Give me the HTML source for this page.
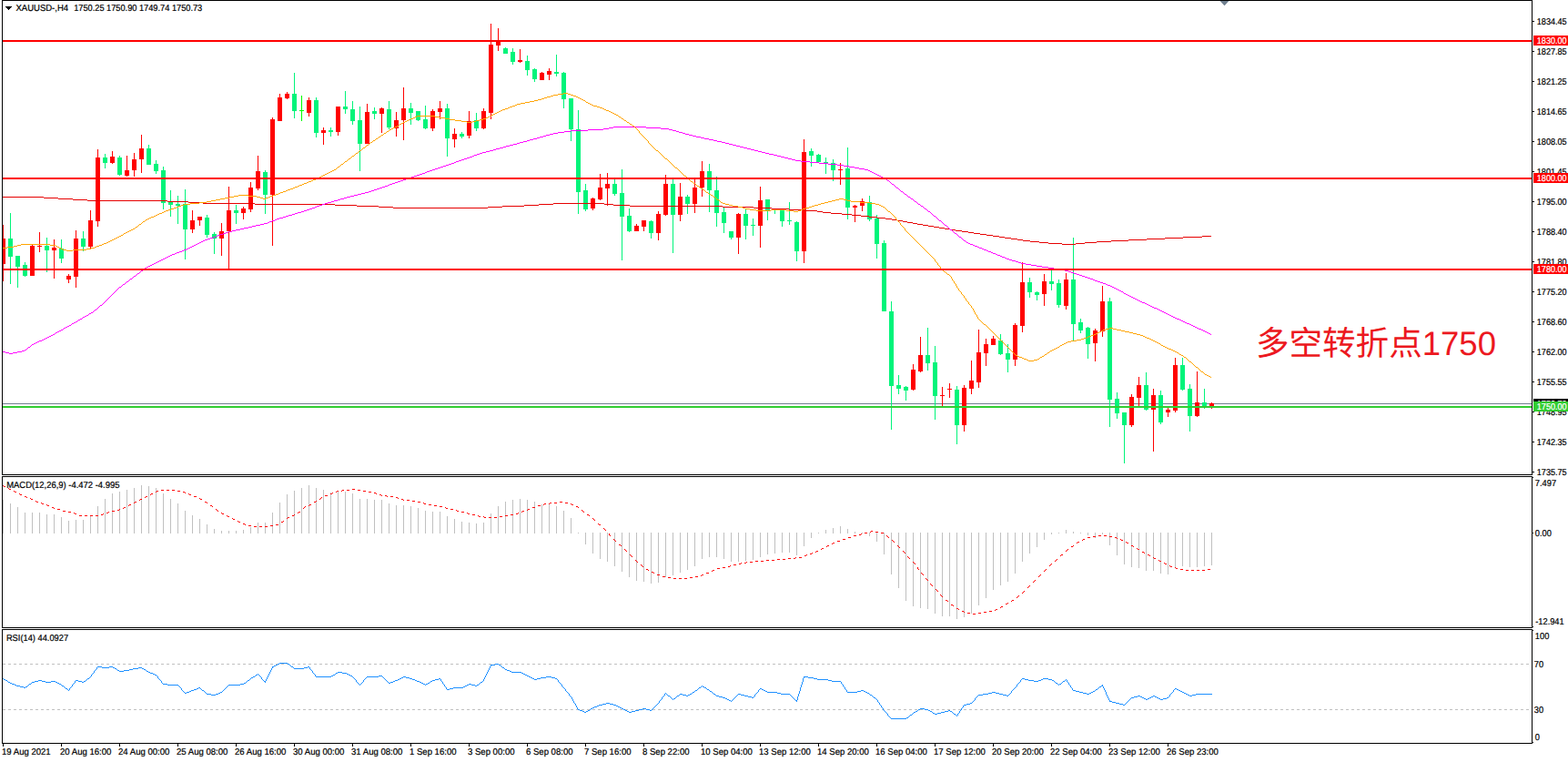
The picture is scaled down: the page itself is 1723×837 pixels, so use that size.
<!DOCTYPE html><html><head><meta charset="utf-8"><title>XAUUSD H4</title><style>
html,body{margin:0;padding:0;background:#fff;width:1723px;height:837px;overflow:hidden}
svg{display:block;position:absolute;left:0;top:0}
text{font-family:"Liberation Sans",sans-serif;font-size:10px;fill:#000;stroke:#000;stroke-width:.22px;text-rendering:geometricPrecision}
.c{shape-rendering:crispEdges}
</style></head><body>
<svg width="1723" height="837" viewBox="0 0 1723 837">
<rect width="1723" height="837" fill="#fff"/>
<g class="c">
<rect x="3" y="443" width="1680" height="1" fill="#708090"/>
<rect x="3" y="247" width="1" height="62" fill="#ff0000"/>
<rect x="3" y="262" width="3" height="28" fill="#ff0000"/>
<rect x="11" y="234" width="1" height="78" fill="#00f47a"/>
<rect x="9" y="262" width="5" height="20" fill="#00f47a"/>
<rect x="19" y="281" width="1" height="35" fill="#00f47a"/>
<rect x="17" y="281" width="5" height="12" fill="#00f47a"/>
<rect x="27" y="288" width="1" height="16" fill="#00f47a"/>
<rect x="25" y="291" width="5" height="12" fill="#00f47a"/>
<rect x="35" y="269" width="1" height="34" fill="#ff0000"/>
<rect x="33" y="270" width="5" height="33" fill="#ff0000"/>
<rect x="43" y="255" width="1" height="22" fill="#ff0000"/>
<rect x="41" y="270" width="5" height="1" fill="#ff0000"/>
<rect x="51" y="261" width="1" height="38" fill="#00f47a"/>
<rect x="49" y="270" width="5" height="5" fill="#00f47a"/>
<rect x="59" y="263" width="1" height="43" fill="#ff0000"/>
<rect x="57" y="272" width="5" height="3" fill="#ff0000"/>
<rect x="67" y="263" width="1" height="26" fill="#00f47a"/>
<rect x="65" y="273" width="5" height="11" fill="#00f47a"/>
<rect x="75" y="301" width="1" height="10" fill="#ff0000"/>
<rect x="73" y="303" width="5" height="4" fill="#ff0000"/>
<rect x="83" y="253" width="1" height="63" fill="#ff0000"/>
<rect x="81" y="262" width="5" height="42" fill="#ff0000"/>
<rect x="91" y="254" width="1" height="22" fill="#00f47a"/>
<rect x="89" y="262" width="5" height="9" fill="#00f47a"/>
<rect x="99" y="231" width="1" height="42" fill="#ff0000"/>
<rect x="97" y="242" width="5" height="29" fill="#ff0000"/>
<rect x="107" y="164" width="1" height="85" fill="#ff0000"/>
<rect x="105" y="173" width="5" height="70" fill="#ff0000"/>
<rect x="115" y="169" width="1" height="16" fill="#00f47a"/>
<rect x="113" y="173" width="5" height="6" fill="#00f47a"/>
<rect x="123" y="166" width="1" height="14" fill="#ff0000"/>
<rect x="121" y="172" width="5" height="7" fill="#ff0000"/>
<rect x="131" y="171" width="1" height="22" fill="#00f47a"/>
<rect x="129" y="173" width="5" height="19" fill="#00f47a"/>
<rect x="139" y="171" width="1" height="23" fill="#ff0000"/>
<rect x="137" y="187" width="5" height="6" fill="#ff0000"/>
<rect x="147" y="168" width="1" height="26" fill="#ff0000"/>
<rect x="145" y="175" width="5" height="12" fill="#ff0000"/>
<rect x="155" y="148" width="1" height="42" fill="#ff0000"/>
<rect x="153" y="163" width="5" height="12" fill="#ff0000"/>
<rect x="163" y="159" width="1" height="22" fill="#00f47a"/>
<rect x="161" y="163" width="5" height="18" fill="#00f47a"/>
<rect x="171" y="176" width="1" height="15" fill="#00f47a"/>
<rect x="169" y="180" width="5" height="8" fill="#00f47a"/>
<rect x="179" y="183" width="1" height="47" fill="#00f47a"/>
<rect x="177" y="187" width="5" height="36" fill="#00f47a"/>
<rect x="187" y="209" width="1" height="29" fill="#00f47a"/>
<rect x="185" y="222" width="5" height="3" fill="#00f47a"/>
<rect x="195" y="215" width="1" height="31" fill="#00f47a"/>
<rect x="193" y="224" width="5" height="2" fill="#00f47a"/>
<rect x="203" y="208" width="1" height="77" fill="#00f47a"/>
<rect x="201" y="224" width="5" height="28" fill="#00f47a"/>
<rect x="211" y="231" width="1" height="25" fill="#ff0000"/>
<rect x="209" y="242" width="5" height="10" fill="#ff0000"/>
<rect x="219" y="238" width="1" height="10" fill="#ff0000"/>
<rect x="217" y="238" width="5" height="4" fill="#ff0000"/>
<rect x="227" y="236" width="1" height="25" fill="#00f47a"/>
<rect x="225" y="239" width="5" height="19" fill="#00f47a"/>
<rect x="235" y="255" width="1" height="24" fill="#00f47a"/>
<rect x="233" y="257" width="5" height="5" fill="#00f47a"/>
<rect x="243" y="245" width="1" height="36" fill="#ff0000"/>
<rect x="241" y="254" width="5" height="8" fill="#ff0000"/>
<rect x="251" y="205" width="1" height="90" fill="#ff0000"/>
<rect x="249" y="231" width="5" height="23" fill="#ff0000"/>
<rect x="259" y="225" width="1" height="21" fill="#00f47a"/>
<rect x="257" y="231" width="5" height="3" fill="#00f47a"/>
<rect x="267" y="227" width="1" height="14" fill="#ff0000"/>
<rect x="265" y="229" width="5" height="5" fill="#ff0000"/>
<rect x="275" y="200" width="1" height="33" fill="#ff0000"/>
<rect x="273" y="206" width="5" height="24" fill="#ff0000"/>
<rect x="283" y="171" width="1" height="38" fill="#ff0000"/>
<rect x="281" y="188" width="5" height="19" fill="#ff0000"/>
<rect x="291" y="187" width="1" height="48" fill="#00f47a"/>
<rect x="289" y="189" width="5" height="25" fill="#00f47a"/>
<rect x="299" y="129" width="1" height="141" fill="#ff0000"/>
<rect x="297" y="131" width="5" height="83" fill="#ff0000"/>
<rect x="307" y="103" width="1" height="30" fill="#ff0000"/>
<rect x="305" y="107" width="5" height="26" fill="#ff0000"/>
<rect x="315" y="101" width="1" height="8" fill="#ff0000"/>
<rect x="313" y="103" width="5" height="5" fill="#ff0000"/>
<rect x="323" y="80" width="1" height="50" fill="#00f47a"/>
<rect x="321" y="103" width="5" height="19" fill="#00f47a"/>
<rect x="331" y="105" width="1" height="28" fill="#00ff00"/>
<rect x="329" y="121" width="5" height="1" fill="#00ff00"/>
<rect x="339" y="107" width="1" height="21" fill="#ff0000"/>
<rect x="337" y="110" width="5" height="14" fill="#ff0000"/>
<rect x="347" y="107" width="1" height="44" fill="#00f47a"/>
<rect x="345" y="110" width="5" height="36" fill="#00f47a"/>
<rect x="355" y="140" width="1" height="19" fill="#ff0000"/>
<rect x="353" y="143" width="5" height="3" fill="#ff0000"/>
<rect x="363" y="140" width="1" height="10" fill="#00f47a"/>
<rect x="361" y="143" width="5" height="2" fill="#00f47a"/>
<rect x="371" y="117" width="1" height="32" fill="#ff0000"/>
<rect x="369" y="117" width="5" height="28" fill="#ff0000"/>
<rect x="379" y="100" width="1" height="25" fill="#00f47a"/>
<rect x="377" y="117" width="5" height="3" fill="#00f47a"/>
<rect x="387" y="111" width="1" height="26" fill="#00f47a"/>
<rect x="385" y="120" width="5" height="13" fill="#00f47a"/>
<rect x="395" y="117" width="1" height="71" fill="#00f47a"/>
<rect x="393" y="132" width="5" height="26" fill="#00f47a"/>
<rect x="403" y="114" width="1" height="44" fill="#ff0000"/>
<rect x="401" y="123" width="5" height="35" fill="#ff0000"/>
<rect x="411" y="118" width="1" height="13" fill="#00f47a"/>
<rect x="409" y="122" width="5" height="3" fill="#00f47a"/>
<rect x="419" y="118" width="1" height="28" fill="#ff0000"/>
<rect x="417" y="119" width="5" height="6" fill="#ff0000"/>
<rect x="427" y="111" width="1" height="31" fill="#00f47a"/>
<rect x="425" y="120" width="5" height="20" fill="#00f47a"/>
<rect x="435" y="123" width="1" height="27" fill="#ff0000"/>
<rect x="433" y="132" width="5" height="9" fill="#ff0000"/>
<rect x="443" y="96" width="1" height="58" fill="#ff0000"/>
<rect x="441" y="119" width="5" height="13" fill="#ff0000"/>
<rect x="451" y="113" width="1" height="24" fill="#00f47a"/>
<rect x="449" y="119" width="5" height="5" fill="#00f47a"/>
<rect x="459" y="122" width="1" height="11" fill="#00f47a"/>
<rect x="457" y="122" width="5" height="10" fill="#00f47a"/>
<rect x="467" y="116" width="1" height="26" fill="#00f47a"/>
<rect x="465" y="131" width="5" height="10" fill="#00f47a"/>
<rect x="475" y="120" width="1" height="24" fill="#ff0000"/>
<rect x="473" y="122" width="5" height="19" fill="#ff0000"/>
<rect x="483" y="111" width="1" height="20" fill="#ff0000"/>
<rect x="481" y="119" width="5" height="4" fill="#ff0000"/>
<rect x="491" y="114" width="1" height="58" fill="#00f47a"/>
<rect x="489" y="119" width="5" height="33" fill="#00f47a"/>
<rect x="499" y="141" width="1" height="21" fill="#ff0000"/>
<rect x="497" y="147" width="5" height="6" fill="#ff0000"/>
<rect x="507" y="145" width="1" height="7" fill="#00f47a"/>
<rect x="505" y="147" width="5" height="3" fill="#00f47a"/>
<rect x="515" y="122" width="1" height="30" fill="#ff0000"/>
<rect x="513" y="133" width="5" height="16" fill="#ff0000"/>
<rect x="523" y="124" width="1" height="20" fill="#00f47a"/>
<rect x="521" y="132" width="5" height="9" fill="#00f47a"/>
<rect x="531" y="119" width="1" height="23" fill="#ff0000"/>
<rect x="529" y="122" width="5" height="19" fill="#ff0000"/>
<rect x="539" y="26" width="1" height="105" fill="#ff0000"/>
<rect x="537" y="49" width="5" height="75" fill="#ff0000"/>
<rect x="547" y="31" width="1" height="25" fill="#ff0000"/>
<rect x="545" y="44" width="5" height="6" fill="#ff0000"/>
<rect x="555" y="52" width="1" height="7" fill="#00f47a"/>
<rect x="553" y="53" width="5" height="6" fill="#00f47a"/>
<rect x="563" y="53" width="1" height="18" fill="#00f47a"/>
<rect x="561" y="57" width="5" height="11" fill="#00f47a"/>
<rect x="571" y="54" width="1" height="15" fill="#ff0000"/>
<rect x="569" y="66" width="5" height="2" fill="#ff0000"/>
<rect x="579" y="61" width="1" height="22" fill="#00f47a"/>
<rect x="577" y="67" width="5" height="10" fill="#00f47a"/>
<rect x="587" y="75" width="1" height="15" fill="#00f47a"/>
<rect x="585" y="76" width="5" height="11" fill="#00f47a"/>
<rect x="595" y="79" width="1" height="9" fill="#ff0000"/>
<rect x="593" y="80" width="5" height="8" fill="#ff0000"/>
<rect x="603" y="75" width="1" height="13" fill="#ff0000"/>
<rect x="601" y="78" width="5" height="4" fill="#ff0000"/>
<rect x="611" y="60" width="1" height="24" fill="#00f47a"/>
<rect x="609" y="79" width="5" height="2" fill="#00f47a"/>
<rect x="619" y="79" width="1" height="40" fill="#00f47a"/>
<rect x="617" y="80" width="5" height="29" fill="#00f47a"/>
<rect x="627" y="108" width="1" height="47" fill="#00f47a"/>
<rect x="625" y="108" width="5" height="34" fill="#00f47a"/>
<rect x="635" y="121" width="1" height="114" fill="#00f47a"/>
<rect x="633" y="142" width="5" height="69" fill="#00f47a"/>
<rect x="643" y="202" width="1" height="30" fill="#00f47a"/>
<rect x="641" y="209" width="5" height="21" fill="#00f47a"/>
<rect x="651" y="217" width="1" height="14" fill="#ff0000"/>
<rect x="649" y="218" width="5" height="11" fill="#ff0000"/>
<rect x="659" y="191" width="1" height="29" fill="#ff0000"/>
<rect x="657" y="206" width="5" height="13" fill="#ff0000"/>
<rect x="667" y="190" width="1" height="36" fill="#ff0000"/>
<rect x="665" y="202" width="5" height="5" fill="#ff0000"/>
<rect x="675" y="197" width="1" height="18" fill="#00f47a"/>
<rect x="673" y="202" width="5" height="11" fill="#00f47a"/>
<rect x="683" y="186" width="1" height="100" fill="#00f47a"/>
<rect x="681" y="212" width="5" height="26" fill="#00f47a"/>
<rect x="691" y="229" width="1" height="26" fill="#00f47a"/>
<rect x="689" y="237" width="5" height="17" fill="#00f47a"/>
<rect x="699" y="246" width="1" height="8" fill="#ff0000"/>
<rect x="697" y="248" width="5" height="6" fill="#ff0000"/>
<rect x="707" y="242" width="1" height="12" fill="#ff0000"/>
<rect x="705" y="242" width="5" height="7" fill="#ff0000"/>
<rect x="715" y="242" width="1" height="20" fill="#00f47a"/>
<rect x="713" y="243" width="5" height="13" fill="#00f47a"/>
<rect x="723" y="232" width="1" height="32" fill="#ff0000"/>
<rect x="721" y="235" width="5" height="21" fill="#ff0000"/>
<rect x="731" y="192" width="1" height="45" fill="#ff0000"/>
<rect x="729" y="202" width="5" height="34" fill="#ff0000"/>
<rect x="739" y="197" width="1" height="81" fill="#00f47a"/>
<rect x="737" y="202" width="5" height="34" fill="#00f47a"/>
<rect x="747" y="201" width="1" height="42" fill="#ff0000"/>
<rect x="745" y="216" width="5" height="20" fill="#ff0000"/>
<rect x="755" y="214" width="1" height="21" fill="#00f47a"/>
<rect x="753" y="216" width="5" height="8" fill="#00f47a"/>
<rect x="763" y="197" width="1" height="37" fill="#ff0000"/>
<rect x="761" y="206" width="5" height="18" fill="#ff0000"/>
<rect x="771" y="177" width="1" height="39" fill="#ff0000"/>
<rect x="769" y="188" width="5" height="18" fill="#ff0000"/>
<rect x="779" y="180" width="1" height="53" fill="#00f47a"/>
<rect x="777" y="188" width="5" height="21" fill="#00f47a"/>
<rect x="787" y="194" width="1" height="55" fill="#00f47a"/>
<rect x="785" y="209" width="5" height="25" fill="#00f47a"/>
<rect x="795" y="228" width="1" height="28" fill="#00f47a"/>
<rect x="793" y="233" width="5" height="12" fill="#00f47a"/>
<rect x="803" y="254" width="1" height="9" fill="#00f47a"/>
<rect x="801" y="254" width="5" height="7" fill="#00f47a"/>
<rect x="811" y="234" width="1" height="45" fill="#ff0000"/>
<rect x="809" y="235" width="5" height="26" fill="#ff0000"/>
<rect x="819" y="229" width="1" height="34" fill="#00f47a"/>
<rect x="817" y="235" width="5" height="13" fill="#00f47a"/>
<rect x="827" y="240" width="1" height="19" fill="#00f47a"/>
<rect x="825" y="247" width="5" height="1" fill="#00f47a"/>
<rect x="835" y="205" width="1" height="67" fill="#ff0000"/>
<rect x="833" y="220" width="5" height="28" fill="#ff0000"/>
<rect x="843" y="219" width="1" height="23" fill="#00f47a"/>
<rect x="841" y="219" width="5" height="12" fill="#00f47a"/>
<rect x="851" y="229" width="1" height="6" fill="#00f47a"/>
<rect x="849" y="230" width="5" height="1" fill="#00f47a"/>
<rect x="859" y="230" width="1" height="19" fill="#00f47a"/>
<rect x="857" y="231" width="5" height="12" fill="#00f47a"/>
<rect x="867" y="222" width="1" height="25" fill="#00f47a"/>
<rect x="865" y="242" width="5" height="1" fill="#00f47a"/>
<rect x="875" y="243" width="1" height="44" fill="#00f47a"/>
<rect x="873" y="244" width="5" height="32" fill="#00f47a"/>
<rect x="883" y="153" width="1" height="136" fill="#ff0000"/>
<rect x="881" y="167" width="5" height="109" fill="#ff0000"/>
<rect x="891" y="163" width="1" height="20" fill="#00f47a"/>
<rect x="889" y="166" width="5" height="5" fill="#00f47a"/>
<rect x="899" y="169" width="1" height="9" fill="#00f47a"/>
<rect x="897" y="170" width="5" height="8" fill="#00f47a"/>
<rect x="907" y="173" width="1" height="18" fill="#00f47a"/>
<rect x="905" y="178" width="5" height="1" fill="#00f47a"/>
<rect x="915" y="175" width="1" height="24" fill="#00f47a"/>
<rect x="913" y="179" width="5" height="8" fill="#00f47a"/>
<rect x="923" y="179" width="1" height="24" fill="#ff0000"/>
<rect x="921" y="186" width="5" height="1" fill="#ff0000"/>
<rect x="931" y="162" width="1" height="79" fill="#00f47a"/>
<rect x="929" y="185" width="5" height="43" fill="#00f47a"/>
<rect x="939" y="225" width="1" height="19" fill="#ff0000"/>
<rect x="937" y="226" width="5" height="2" fill="#ff0000"/>
<rect x="947" y="218" width="1" height="14" fill="#ff0000"/>
<rect x="945" y="221" width="5" height="5" fill="#ff0000"/>
<rect x="955" y="215" width="1" height="28" fill="#00f47a"/>
<rect x="953" y="222" width="5" height="19" fill="#00f47a"/>
<rect x="963" y="236" width="1" height="48" fill="#00f47a"/>
<rect x="961" y="240" width="5" height="28" fill="#00f47a"/>
<rect x="971" y="264" width="1" height="78" fill="#00f47a"/>
<rect x="969" y="267" width="5" height="75" fill="#00f47a"/>
<rect x="979" y="331" width="1" height="141" fill="#00f47a"/>
<rect x="977" y="342" width="5" height="82" fill="#00f47a"/>
<rect x="987" y="412" width="1" height="21" fill="#00f47a"/>
<rect x="985" y="423" width="5" height="4" fill="#00f47a"/>
<rect x="995" y="424" width="1" height="16" fill="#00f47a"/>
<rect x="993" y="425" width="5" height="4" fill="#00f47a"/>
<rect x="1003" y="400" width="1" height="29" fill="#ff0000"/>
<rect x="1001" y="406" width="5" height="22" fill="#ff0000"/>
<rect x="1011" y="370" width="1" height="39" fill="#ff0000"/>
<rect x="1009" y="390" width="5" height="18" fill="#ff0000"/>
<rect x="1019" y="360" width="1" height="47" fill="#00f47a"/>
<rect x="1017" y="390" width="5" height="9" fill="#00f47a"/>
<rect x="1027" y="380" width="1" height="81" fill="#00f47a"/>
<rect x="1025" y="398" width="5" height="37" fill="#00f47a"/>
<rect x="1035" y="425" width="1" height="21" fill="#ff0000"/>
<rect x="1033" y="434" width="5" height="1" fill="#ff0000"/>
<rect x="1043" y="421" width="1" height="16" fill="#ff0000"/>
<rect x="1041" y="427" width="5" height="1" fill="#ff0000"/>
<rect x="1051" y="424" width="1" height="64" fill="#00f47a"/>
<rect x="1049" y="428" width="5" height="39" fill="#00f47a"/>
<rect x="1059" y="423" width="1" height="51" fill="#ff0000"/>
<rect x="1057" y="426" width="5" height="41" fill="#ff0000"/>
<rect x="1067" y="396" width="1" height="37" fill="#ff0000"/>
<rect x="1065" y="418" width="5" height="9" fill="#ff0000"/>
<rect x="1075" y="362" width="1" height="64" fill="#ff0000"/>
<rect x="1073" y="387" width="5" height="33" fill="#ff0000"/>
<rect x="1083" y="372" width="1" height="30" fill="#ff0000"/>
<rect x="1081" y="378" width="5" height="10" fill="#ff0000"/>
<rect x="1091" y="369" width="1" height="10" fill="#ff0000"/>
<rect x="1089" y="372" width="5" height="7" fill="#ff0000"/>
<rect x="1099" y="367" width="1" height="23" fill="#00f47a"/>
<rect x="1097" y="374" width="5" height="15" fill="#00f47a"/>
<rect x="1107" y="378" width="1" height="31" fill="#00f47a"/>
<rect x="1105" y="388" width="5" height="7" fill="#00f47a"/>
<rect x="1115" y="355" width="1" height="47" fill="#ff0000"/>
<rect x="1113" y="357" width="5" height="38" fill="#ff0000"/>
<rect x="1123" y="288" width="1" height="77" fill="#ff0000"/>
<rect x="1121" y="310" width="5" height="48" fill="#ff0000"/>
<rect x="1131" y="305" width="1" height="22" fill="#00f47a"/>
<rect x="1129" y="310" width="5" height="11" fill="#00f47a"/>
<rect x="1139" y="320" width="1" height="10" fill="#00f47a"/>
<rect x="1137" y="321" width="5" height="3" fill="#00f47a"/>
<rect x="1147" y="301" width="1" height="35" fill="#ff0000"/>
<rect x="1145" y="309" width="5" height="14" fill="#ff0000"/>
<rect x="1155" y="297" width="1" height="22" fill="#00f47a"/>
<rect x="1153" y="309" width="5" height="3" fill="#00f47a"/>
<rect x="1163" y="307" width="1" height="31" fill="#00f47a"/>
<rect x="1161" y="311" width="5" height="24" fill="#00f47a"/>
<rect x="1171" y="300" width="1" height="40" fill="#ff0000"/>
<rect x="1169" y="307" width="5" height="29" fill="#ff0000"/>
<rect x="1179" y="261" width="1" height="113" fill="#00f47a"/>
<rect x="1177" y="307" width="5" height="49" fill="#00f47a"/>
<rect x="1187" y="350" width="1" height="16" fill="#00f47a"/>
<rect x="1185" y="354" width="5" height="9" fill="#00f47a"/>
<rect x="1195" y="359" width="1" height="35" fill="#00f47a"/>
<rect x="1193" y="360" width="5" height="18" fill="#00f47a"/>
<rect x="1203" y="361" width="1" height="36" fill="#ff0000"/>
<rect x="1201" y="363" width="5" height="14" fill="#ff0000"/>
<rect x="1211" y="314" width="1" height="56" fill="#ff0000"/>
<rect x="1209" y="331" width="5" height="33" fill="#ff0000"/>
<rect x="1219" y="327" width="1" height="142" fill="#00f47a"/>
<rect x="1217" y="331" width="5" height="108" fill="#00f47a"/>
<rect x="1227" y="431" width="1" height="29" fill="#00f47a"/>
<rect x="1225" y="438" width="5" height="16" fill="#00f47a"/>
<rect x="1235" y="453" width="1" height="56" fill="#00f47a"/>
<rect x="1233" y="453" width="5" height="14" fill="#00f47a"/>
<rect x="1243" y="433" width="1" height="36" fill="#ff0000"/>
<rect x="1241" y="436" width="5" height="31" fill="#ff0000"/>
<rect x="1251" y="414" width="1" height="32" fill="#ff0000"/>
<rect x="1249" y="423" width="5" height="14" fill="#ff0000"/>
<rect x="1259" y="409" width="1" height="42" fill="#00f47a"/>
<rect x="1257" y="423" width="5" height="27" fill="#00f47a"/>
<rect x="1267" y="427" width="1" height="69" fill="#ff0000"/>
<rect x="1265" y="434" width="5" height="16" fill="#ff0000"/>
<rect x="1275" y="429" width="1" height="37" fill="#00f47a"/>
<rect x="1273" y="434" width="5" height="30" fill="#00f47a"/>
<rect x="1283" y="448" width="1" height="10" fill="#ff0000"/>
<rect x="1281" y="450" width="5" height="3" fill="#ff0000"/>
<rect x="1291" y="393" width="1" height="60" fill="#ff0000"/>
<rect x="1289" y="401" width="5" height="50" fill="#ff0000"/>
<rect x="1299" y="393" width="1" height="36" fill="#00f47a"/>
<rect x="1297" y="401" width="5" height="27" fill="#00f47a"/>
<rect x="1307" y="422" width="1" height="52" fill="#00f47a"/>
<rect x="1305" y="427" width="5" height="30" fill="#00f47a"/>
<rect x="1315" y="408" width="1" height="50" fill="#ff0000"/>
<rect x="1313" y="442" width="5" height="15" fill="#ff0000"/>
<rect x="1323" y="427" width="1" height="22" fill="#00f47a"/>
<rect x="1321" y="442" width="5" height="6" fill="#00f47a"/>
<rect x="1331" y="442" width="1" height="7" fill="#ff0000"/>
<rect x="1329" y="443" width="5" height="5" fill="#ff0000"/>
<rect x="3" y="549" width="1" height="37" fill="#c0c0c0"/>
<rect x="11" y="553" width="1" height="33" fill="#c0c0c0"/>
<rect x="19" y="557" width="1" height="29" fill="#c0c0c0"/>
<rect x="27" y="563" width="1" height="23" fill="#c0c0c0"/>
<rect x="35" y="563" width="1" height="23" fill="#c0c0c0"/>
<rect x="43" y="563" width="1" height="23" fill="#c0c0c0"/>
<rect x="51" y="565" width="1" height="21" fill="#c0c0c0"/>
<rect x="59" y="565" width="1" height="21" fill="#c0c0c0"/>
<rect x="67" y="568" width="1" height="18" fill="#c0c0c0"/>
<rect x="75" y="572" width="1" height="14" fill="#c0c0c0"/>
<rect x="83" y="571" width="1" height="15" fill="#c0c0c0"/>
<rect x="91" y="571" width="1" height="15" fill="#c0c0c0"/>
<rect x="99" y="567" width="1" height="19" fill="#c0c0c0"/>
<rect x="107" y="556" width="1" height="30" fill="#c0c0c0"/>
<rect x="115" y="548" width="1" height="38" fill="#c0c0c0"/>
<rect x="123" y="542" width="1" height="44" fill="#c0c0c0"/>
<rect x="131" y="540" width="1" height="46" fill="#c0c0c0"/>
<rect x="139" y="538" width="1" height="48" fill="#c0c0c0"/>
<rect x="147" y="536" width="1" height="50" fill="#c0c0c0"/>
<rect x="155" y="533" width="1" height="53" fill="#c0c0c0"/>
<rect x="163" y="534" width="1" height="52" fill="#c0c0c0"/>
<rect x="171" y="536" width="1" height="50" fill="#c0c0c0"/>
<rect x="179" y="542" width="1" height="44" fill="#c0c0c0"/>
<rect x="187" y="548" width="1" height="38" fill="#c0c0c0"/>
<rect x="195" y="553" width="1" height="33" fill="#c0c0c0"/>
<rect x="203" y="561" width="1" height="25" fill="#c0c0c0"/>
<rect x="211" y="566" width="1" height="20" fill="#c0c0c0"/>
<rect x="219" y="570" width="1" height="16" fill="#c0c0c0"/>
<rect x="227" y="576" width="1" height="10" fill="#c0c0c0"/>
<rect x="235" y="581" width="1" height="5" fill="#c0c0c0"/>
<rect x="243" y="583" width="1" height="3" fill="#c0c0c0"/>
<rect x="251" y="583" width="1" height="3" fill="#c0c0c0"/>
<rect x="259" y="583" width="1" height="3" fill="#c0c0c0"/>
<rect x="267" y="582" width="1" height="4" fill="#c0c0c0"/>
<rect x="275" y="579" width="1" height="7" fill="#c0c0c0"/>
<rect x="283" y="574" width="1" height="12" fill="#c0c0c0"/>
<rect x="291" y="574" width="1" height="12" fill="#c0c0c0"/>
<rect x="299" y="563" width="1" height="23" fill="#c0c0c0"/>
<rect x="307" y="552" width="1" height="34" fill="#c0c0c0"/>
<rect x="315" y="543" width="1" height="43" fill="#c0c0c0"/>
<rect x="323" y="539" width="1" height="47" fill="#c0c0c0"/>
<rect x="331" y="536" width="1" height="50" fill="#c0c0c0"/>
<rect x="339" y="533" width="1" height="53" fill="#c0c0c0"/>
<rect x="347" y="536" width="1" height="50" fill="#c0c0c0"/>
<rect x="355" y="538" width="1" height="48" fill="#c0c0c0"/>
<rect x="363" y="541" width="1" height="45" fill="#c0c0c0"/>
<rect x="371" y="539" width="1" height="47" fill="#c0c0c0"/>
<rect x="379" y="540" width="1" height="46" fill="#c0c0c0"/>
<rect x="387" y="542" width="1" height="44" fill="#c0c0c0"/>
<rect x="395" y="548" width="1" height="38" fill="#c0c0c0"/>
<rect x="403" y="548" width="1" height="38" fill="#c0c0c0"/>
<rect x="411" y="549" width="1" height="37" fill="#c0c0c0"/>
<rect x="419" y="549" width="1" height="37" fill="#c0c0c0"/>
<rect x="427" y="553" width="1" height="33" fill="#c0c0c0"/>
<rect x="435" y="555" width="1" height="31" fill="#c0c0c0"/>
<rect x="443" y="555" width="1" height="31" fill="#c0c0c0"/>
<rect x="451" y="556" width="1" height="30" fill="#c0c0c0"/>
<rect x="459" y="558" width="1" height="28" fill="#c0c0c0"/>
<rect x="467" y="561" width="1" height="25" fill="#c0c0c0"/>
<rect x="475" y="562" width="1" height="24" fill="#c0c0c0"/>
<rect x="483" y="562" width="1" height="24" fill="#c0c0c0"/>
<rect x="491" y="567" width="1" height="19" fill="#c0c0c0"/>
<rect x="499" y="570" width="1" height="16" fill="#c0c0c0"/>
<rect x="507" y="573" width="1" height="13" fill="#c0c0c0"/>
<rect x="515" y="574" width="1" height="12" fill="#c0c0c0"/>
<rect x="523" y="575" width="1" height="11" fill="#c0c0c0"/>
<rect x="531" y="574" width="1" height="12" fill="#c0c0c0"/>
<rect x="539" y="564" width="1" height="22" fill="#c0c0c0"/>
<rect x="547" y="556" width="1" height="30" fill="#c0c0c0"/>
<rect x="555" y="551" width="1" height="35" fill="#c0c0c0"/>
<rect x="563" y="549" width="1" height="37" fill="#c0c0c0"/>
<rect x="571" y="548" width="1" height="38" fill="#c0c0c0"/>
<rect x="579" y="549" width="1" height="37" fill="#c0c0c0"/>
<rect x="587" y="551" width="1" height="35" fill="#c0c0c0"/>
<rect x="595" y="554" width="1" height="32" fill="#c0c0c0"/>
<rect x="603" y="554" width="1" height="32" fill="#c0c0c0"/>
<rect x="611" y="556" width="1" height="30" fill="#c0c0c0"/>
<rect x="619" y="561" width="1" height="25" fill="#c0c0c0"/>
<rect x="627" y="569" width="1" height="17" fill="#c0c0c0"/>
<rect x="635" y="585" width="1" height="1" fill="#c0c0c0"/>
<rect x="643" y="585" width="1" height="13" fill="#c0c0c0"/>
<rect x="651" y="585" width="1" height="23" fill="#c0c0c0"/>
<rect x="659" y="585" width="1" height="29" fill="#c0c0c0"/>
<rect x="667" y="585" width="1" height="32" fill="#c0c0c0"/>
<rect x="675" y="585" width="1" height="37" fill="#c0c0c0"/>
<rect x="683" y="585" width="1" height="43" fill="#c0c0c0"/>
<rect x="691" y="585" width="1" height="49" fill="#c0c0c0"/>
<rect x="699" y="585" width="1" height="53" fill="#c0c0c0"/>
<rect x="707" y="585" width="1" height="54" fill="#c0c0c0"/>
<rect x="715" y="585" width="1" height="56" fill="#c0c0c0"/>
<rect x="723" y="585" width="1" height="55" fill="#c0c0c0"/>
<rect x="731" y="585" width="1" height="49" fill="#c0c0c0"/>
<rect x="739" y="585" width="1" height="47" fill="#c0c0c0"/>
<rect x="747" y="585" width="1" height="44" fill="#c0c0c0"/>
<rect x="755" y="585" width="1" height="41" fill="#c0c0c0"/>
<rect x="763" y="585" width="1" height="37" fill="#c0c0c0"/>
<rect x="771" y="585" width="1" height="29" fill="#c0c0c0"/>
<rect x="779" y="585" width="1" height="27" fill="#c0c0c0"/>
<rect x="787" y="585" width="1" height="27" fill="#c0c0c0"/>
<rect x="795" y="585" width="1" height="29" fill="#c0c0c0"/>
<rect x="803" y="585" width="1" height="32" fill="#c0c0c0"/>
<rect x="811" y="585" width="1" height="32" fill="#c0c0c0"/>
<rect x="819" y="585" width="1" height="31" fill="#c0c0c0"/>
<rect x="827" y="585" width="1" height="30" fill="#c0c0c0"/>
<rect x="835" y="585" width="1" height="27" fill="#c0c0c0"/>
<rect x="843" y="585" width="1" height="24" fill="#c0c0c0"/>
<rect x="851" y="585" width="1" height="23" fill="#c0c0c0"/>
<rect x="859" y="585" width="1" height="22" fill="#c0c0c0"/>
<rect x="867" y="585" width="1" height="22" fill="#c0c0c0"/>
<rect x="875" y="585" width="1" height="25" fill="#c0c0c0"/>
<rect x="883" y="585" width="1" height="15" fill="#c0c0c0"/>
<rect x="891" y="585" width="1" height="6" fill="#c0c0c0"/>
<rect x="899" y="585" width="1" height="1" fill="#c0c0c0"/>
<rect x="907" y="582" width="1" height="4" fill="#c0c0c0"/>
<rect x="915" y="580" width="1" height="6" fill="#c0c0c0"/>
<rect x="923" y="578" width="1" height="8" fill="#c0c0c0"/>
<rect x="931" y="581" width="1" height="5" fill="#c0c0c0"/>
<rect x="939" y="584" width="1" height="2" fill="#c0c0c0"/>
<rect x="947" y="585" width="1" height="1" fill="#c0c0c0"/>
<rect x="955" y="585" width="1" height="4" fill="#c0c0c0"/>
<rect x="963" y="585" width="1" height="10" fill="#c0c0c0"/>
<rect x="971" y="585" width="1" height="24" fill="#c0c0c0"/>
<rect x="979" y="585" width="1" height="46" fill="#c0c0c0"/>
<rect x="987" y="585" width="1" height="61" fill="#c0c0c0"/>
<rect x="995" y="585" width="1" height="75" fill="#c0c0c0"/>
<rect x="1003" y="585" width="1" height="81" fill="#c0c0c0"/>
<rect x="1011" y="585" width="1" height="83" fill="#c0c0c0"/>
<rect x="1019" y="585" width="1" height="84" fill="#c0c0c0"/>
<rect x="1027" y="585" width="1" height="89" fill="#c0c0c0"/>
<rect x="1035" y="585" width="1" height="92" fill="#c0c0c0"/>
<rect x="1043" y="585" width="1" height="92" fill="#c0c0c0"/>
<rect x="1051" y="585" width="1" height="95" fill="#c0c0c0"/>
<rect x="1059" y="585" width="1" height="93" fill="#c0c0c0"/>
<rect x="1067" y="585" width="1" height="89" fill="#c0c0c0"/>
<rect x="1075" y="585" width="1" height="80" fill="#c0c0c0"/>
<rect x="1083" y="585" width="1" height="72" fill="#c0c0c0"/>
<rect x="1091" y="585" width="1" height="63" fill="#c0c0c0"/>
<rect x="1099" y="585" width="1" height="58" fill="#c0c0c0"/>
<rect x="1107" y="585" width="1" height="54" fill="#c0c0c0"/>
<rect x="1115" y="585" width="1" height="45" fill="#c0c0c0"/>
<rect x="1123" y="585" width="1" height="32" fill="#c0c0c0"/>
<rect x="1131" y="585" width="1" height="23" fill="#c0c0c0"/>
<rect x="1139" y="585" width="1" height="16" fill="#c0c0c0"/>
<rect x="1147" y="585" width="1" height="8" fill="#c0c0c0"/>
<rect x="1155" y="585" width="1" height="2" fill="#c0c0c0"/>
<rect x="1163" y="585" width="1" height="1" fill="#c0c0c0"/>
<rect x="1171" y="582" width="1" height="4" fill="#c0c0c0"/>
<rect x="1179" y="584" width="1" height="2" fill="#c0c0c0"/>
<rect x="1187" y="585" width="1" height="1" fill="#c0c0c0"/>
<rect x="1195" y="585" width="1" height="3" fill="#c0c0c0"/>
<rect x="1203" y="585" width="1" height="6" fill="#c0c0c0"/>
<rect x="1211" y="585" width="1" height="2" fill="#c0c0c0"/>
<rect x="1219" y="585" width="1" height="14" fill="#c0c0c0"/>
<rect x="1227" y="585" width="1" height="25" fill="#c0c0c0"/>
<rect x="1235" y="585" width="1" height="35" fill="#c0c0c0"/>
<rect x="1243" y="585" width="1" height="38" fill="#c0c0c0"/>
<rect x="1251" y="585" width="1" height="39" fill="#c0c0c0"/>
<rect x="1259" y="585" width="1" height="42" fill="#c0c0c0"/>
<rect x="1267" y="585" width="1" height="42" fill="#c0c0c0"/>
<rect x="1275" y="585" width="1" height="45" fill="#c0c0c0"/>
<rect x="1283" y="585" width="1" height="46" fill="#c0c0c0"/>
<rect x="1291" y="585" width="1" height="39" fill="#c0c0c0"/>
<rect x="1299" y="585" width="1" height="37" fill="#c0c0c0"/>
<rect x="1307" y="585" width="1" height="38" fill="#c0c0c0"/>
<rect x="1315" y="585" width="1" height="38" fill="#c0c0c0"/>
<rect x="1323" y="585" width="1" height="37" fill="#c0c0c0"/>
<rect x="1331" y="585" width="1" height="36" fill="#c0c0c0"/>
</g>
<g class="c">
<path d="M432 228.5h104M828 228.5h20M223 223.5h57M608 223.5h56M416 227.5h16M536 227.5h16M794 227.5h34M64 218.5h16M280 224.5h88M592 224.5h16M664 224.5h10M392 226.5h24M552 226.5h24M692 226.5h102M1044 252.5h6M1104 261.5h7M1280 261.5h20M48 217.5h16M1142 266.5h10M1192 266.5h13M1111 262.5h7M1260 262.5h20M1091 259.5h7M1321 259.5h10M368 225.5h24M576 225.5h16M674 225.5h18M207 222.5h16M867 230.5h18M1098 260.5h6M1300 260.5h21M184 221.5h23M96 220.5h88M1124 264.5h8M1221 264.5h19M3 216.5h45M936 236.5h10M913 234.5h12M885 231.5h13M1152 267.5h15M1182 267.5h10M955 238.5h9M1032 250.5h6M1003 245.5h5M1132 265.5h10M1205 265.5h16M1167 268.5h15M1118 263.5h6M1240 263.5h20M1050 253.5h7M1020 248.5h6M80 219.5h16M904 233.5h9M1064 255.5h6M1084 258.5h7M925 235.5h11M848 229.5h19M964 239.5h9M1038 251.5h6M1070 256.5h7M1008 246.5h6M946 237.5h9M1026 249.5h6M1057 254.5h7M997 244.5h6M1014 247.5h6M973 240.5h7M1077 257.5h7M992 243.5h5M980 241.5h6M986 242.5h6M898 232.5h6" fill="none" stroke="#e60000" stroke-width="1"/>
<path d="M91 348.5h2M1289 348.5h2M163 292.5h2M1139 292.5h6M579 154.5h3M784 154.5h4M504 176.5h3M874 176.5h6M426 203.5h2M982 203.5h1M281 247.5h5M1038 247.5h2M10 388.5h4M669 140.5h5M710 140.5h16M259 252.5h5M1044 252.5h2M121 325.5h1M1241 325.5h2M70 360.5h2M1315 360.5h2M674 139.5h36M590 151.5h3M770 151.5h4M61 365.5h2M1326 365.5h2M202 274.5h3M1081 274.5h3M169 289.5h2M1122 289.5h5M510 174.5h3M866 174.5h4M3 386.5h3M19 386.5h5M108 337.5h1M1266 337.5h2M113 333.5h1M1258 333.5h2M449 195.5h3M970 195.5h2M268 250.5h5M1042 250.5h1M461 191.5h3M962 191.5h2M78 356.5h1M1307 356.5h2M157 296.5h1M1164 296.5h6M248 255.5h3M1048 255.5h1M604 147.5h4M753 147.5h4M95 346.5h2M1285 346.5h2M143 306.5h2M1198 306.5h3M286 246.5h4M1037 246.5h1M586 152.5h4M774 152.5h5M493 180.5h3M910 180.5h10M192 278.5h2M1091 278.5h3M521 170.5h3M850 170.5h4M83 353.5h2M1300 353.5h2M337 230.5h3M1018 230.5h1M443 197.5h3M974 197.5h1M37 377.5h2M79 355.5h2M1304 355.5h3M115 331.5h1M1253 331.5h2M513 173.5h3M862 173.5h4M334 231.5h3M1019 231.5h1M102 342.5h1M1277 342.5h2M104 340.5h2M1273 340.5h2M183 282.5h2M1101 282.5h3M304 240.5h3M1030 240.5h1M627 143.5h19M739 143.5h4M69 361.5h1M1317 361.5h3M593 150.5h4M765 150.5h5M378 217.5h3M1000 217.5h1M499 178.5h2M890 178.5h10M134 313.5h1M1217 313.5h3M327 233.5h4M1022 233.5h1M564 158.5h4M801 158.5h4M575 155.5h4M788 155.5h5M542 164.5h3M825 164.5h4M138 310.5h1M1209 310.5h3M165 291.5h2M1133 291.5h6M524 169.5h3M845 169.5h5M6 387.5h4M14 387.5h5M472 187.5h3M954 187.5h2M239 258.5h3M1052 258.5h1M397 212.5h4M993 212.5h1M120 326.5h1M1243 326.5h2M124 322.5h1M1235 322.5h2M608 146.5h5M750 146.5h3M556 160.5h4M809 160.5h4M411 208.5h3M988 208.5h1M455 193.5h3M966 193.5h2M405 210.5h3M990 210.5h2M107 338.5h1M1268 338.5h3M273 249.5h4M1041 249.5h1M128 318.5h1M1228 318.5h2M385 215.5h4M997 215.5h1M153 299.5h1M1177 299.5h3M88 350.5h2M1293 350.5h3M34 379.5h1M76 357.5h2M1309 357.5h2M545 163.5h4M821 163.5h4M151 300.5h2M1180 300.5h3M234 260.5h3M1054 260.5h2M487 182.5h3M927 182.5h6M317 236.5h4M1025 236.5h1M106 339.5h1M1271 339.5h2M393 213.5h4M994 213.5h2M161 293.5h2M1145 293.5h7M374 218.5h4M1001 218.5h2M553 161.5h3M813 161.5h4M501 177.5h3M880 177.5h10M175 286.5h2M1112 286.5h4M346 227.5h2M1014 227.5h1M530 167.5h4M837 167.5h4M534 166.5h4M833 166.5h4M159 294.5h2M1152 294.5h6M452 194.5h3M968 194.5h2M343 228.5h3M1015 228.5h1M484 183.5h3M933 183.5h6M146 304.5h1M1192 304.5h3M314 237.5h3M1026 237.5h2M401 211.5h4M992 211.5h1M307 239.5h4M1029 239.5h1M133 314.5h1M1220 314.5h2M389 214.5h4M996 214.5h1M179 284.5h2M1106 284.5h3M122 324.5h1M1239 324.5h2M381 216.5h4M998 216.5h2M434 200.5h3M978 200.5h1M478 185.5h3M944 185.5h6M72 359.5h2M1313 359.5h2M490 181.5h3M920 181.5h7M364 221.5h3M1005 221.5h2M228 262.5h3M1057 262.5h1M440 198.5h3M975 198.5h2M215 268.5h2M1066 268.5h3M527 168.5h3M841 168.5h4M200 275.5h2M1084 275.5h2M496 179.5h3M900 179.5h10M519 171.5h2M854 171.5h4M428 202.5h3M980 202.5h2M446 196.5h3M972 196.5h2M571 156.5h4M793 156.5h4M549 162.5h4M817 162.5h4M475 186.5h3M950 186.5h4M302 241.5h2M1031 241.5h1M582 153.5h4M779 153.5h5M331 232.5h3M1020 232.5h2M360 222.5h4M1007 222.5h1M354 224.5h3M1009 224.5h2M646 142.5h17M735 142.5h4M126 320.5h1M1232 320.5h2M86 351.5h2M1296 351.5h2M173 287.5h2M1116 287.5h3M464 190.5h3M960 190.5h2M155 297.5h2M1170 297.5h4M110 335.5h2M1262 335.5h2M414 207.5h3M987 207.5h1M213 269.5h2M1069 269.5h2M221 265.5h2M1061 265.5h1M348 226.5h3M1012 226.5h2M29 383.5h1M93 347.5h2M1287 347.5h2M469 188.5h3M956 188.5h2M100 343.5h2M1279 343.5h2M277 248.5h4M1040 248.5h1M613 145.5h7M746 145.5h4M420 205.5h3M984 205.5h1M197 276.5h3M1086 276.5h3M481 184.5h3M939 184.5h5M109 336.5h1M1264 336.5h2M431 201.5h3M979 201.5h1M205 273.5h2M1079 273.5h2M85 352.5h1M1298 352.5h2M141 308.5h1M1203 308.5h3M211 270.5h2M1071 270.5h3M217 267.5h2M1064 267.5h2M117 329.5h1M1249 329.5h2M90 349.5h1M1291 349.5h2M65 363.5h2M1322 363.5h2M620 144.5h7M743 144.5h3M145 305.5h1M1195 305.5h3M63 364.5h2M1324 364.5h2M516 172.5h3M858 172.5h4M507 175.5h3M870 175.5h4M187 280.5h2M1096 280.5h3M340 229.5h3M1016 229.5h2M255 253.5h4M1046 253.5h1M294 244.5h2M1035 244.5h1M139 309.5h2M1206 309.5h3M185 281.5h2M1099 281.5h2M97 345.5h1M1283 345.5h2M43 374.5h3M423 204.5h3M983 204.5h1M125 321.5h1M1234 321.5h1M129 317.5h1M1226 317.5h2M600 148.5h4M757 148.5h4M663 141.5h6M726 141.5h9M189 279.5h3M1094 279.5h2M177 285.5h2M1109 285.5h3M27 384.5h2M237 259.5h2M1053 259.5h1M39 376.5h2M417 206.5h3M985 206.5h2M324 234.5h3M1023 234.5h1M131 315.5h2M1222 315.5h2M35 378.5h2M209 271.5h2M1074 271.5h2M58 367.5h2M1330 367.5h1M54 369.5h2M357 223.5h3M1008 223.5h1M560 159.5h4M805 159.5h4M597 149.5h3M761 149.5h4M147 303.5h2M1189 303.5h3M158 295.5h1M1158 295.5h6M50 371.5h2M181 283.5h2M1104 283.5h2M56 368.5h2M223 264.5h2M1059 264.5h2M231 261.5h3M1056 261.5h1M103 341.5h1M1275 341.5h2M296 243.5h3M1034 243.5h1M33 380.5h1M207 272.5h2M1076 272.5h3M371 219.5h3M1003 219.5h1M225 263.5h3M1058 263.5h1M46 373.5h2M299 242.5h3M1032 242.5h2M52 370.5h2M60 366.5h1M1328 366.5h2M67 362.5h2M1320 362.5h2M98 344.5h2M1281 344.5h2M538 165.5h4M829 165.5h4M137 311.5h1M1212 311.5h3M194 277.5h3M1089 277.5h2M119 327.5h1M1245 327.5h2M467 189.5h2M958 189.5h2M118 328.5h1M1247 328.5h2M167 290.5h2M1127 290.5h6M114 332.5h1M1255 332.5h3M48 372.5h2M351 225.5h3M1011 225.5h1M154 298.5h1M1174 298.5h3M130 316.5h1M1224 316.5h2M311 238.5h3M1028 238.5h1M135 312.5h2M1215 312.5h2M264 251.5h4M1043 251.5h1M245 256.5h3M1049 256.5h2M251 254.5h4M1047 254.5h1M290 245.5h4M1036 245.5h1M321 235.5h3M1024 235.5h1M171 288.5h2M1119 288.5h3M408 209.5h3M989 209.5h1M242 257.5h3M1051 257.5h1M568 157.5h3M797 157.5h4M74 358.5h2M1311 358.5h2M127 319.5h1M1230 319.5h2M437 199.5h3M977 199.5h1M123 323.5h1M1237 323.5h2M367 220.5h4M1004 220.5h1M150 301.5h1M1183 301.5h3M142 307.5h1M1201 307.5h2M219 266.5h2M1062 266.5h2M149 302.5h1M1186 302.5h3M458 192.5h3M964 192.5h2M81 354.5h2M1302 354.5h2M112 334.5h1M1260 334.5h2M116 330.5h1M1251 330.5h2M31 381.5h2M41 375.5h2M24 385.5h3M30 382.5h1" fill="none" stroke="#ff00ff" stroke-width="1"/>
<path d="M1069.5 339v2M1073.5 346v2M1053.5 317v2M984.5 239v2M1056.5 321v2M994.5 251v2M1027.5 285v2M1030.5 289v2M1059.5 325v2M1046.5 306v2M712.5 155v2M1061.5 328v2M1050.5 312v2M1064.5 332v2M1071.5 343v2M1045.5 304v2M1074.5 348v2M1048.5 309v2M1051.5 314v2M1067.5 336v2M1070.5 341v2M989.5 245v2M702.5 144v2M1033.5 293v2M582 111.5h5M643 111.5h1M1120 392.5h3M1143 392.5h2M1301 392.5h2M23 268.5h32M112 268.5h2M1010 268.5h1M180 232.5h2M872 232.5h5M976 232.5h2M199 225.5h3M801 225.5h4M895 225.5h4M966 225.5h2M456 128.5h2M478 128.5h5M536 128.5h2M680 128.5h2M334 201.5h3M762 201.5h2M418 149.5h1M706 149.5h1M1113 387.5h1M1151 387.5h2M1293 387.5h2M209 223.5h10M794 223.5h3M902 223.5h4M956 223.5h6M598 107.5h3M635 107.5h2M1054 319.5h1M191 228.5h3M816 228.5h3M885 228.5h4M972 228.5h1M1114 388.5h1M1150 388.5h1M1295 388.5h1M451 130.5h3M489 130.5h5M531 130.5h3M683 130.5h2M149 249.5h2M992 249.5h1M357 191.5h2M750 191.5h1M1055 320.5h1M69 274.5h4M80 274.5h15M1016 274.5h1M202 224.5h7M797 224.5h4M899 224.5h3M962 224.5h4M257 215.5h5M273 215.5h9M297 215.5h3M783 215.5h1M8 271.5h7M63 271.5h2M104 271.5h2M1013 271.5h1M1101 375.5h1M1173 375.5h4M1269 375.5h2M555 119.5h3M662 119.5h2M135 257.5h1M999 257.5h1M355 192.5h2M751 192.5h1M19 269.5h4M55 269.5h6M109 269.5h3M1011 269.5h1M548 122.5h2M669 122.5h2M1072 345.5h1M1130 396.5h6M1306 396.5h1M406 157.5h1M713 157.5h1M558 118.5h2M659 118.5h3M373 182.5h1M740 182.5h1M73 275.5h7M1017 275.5h1M196 226.5h3M805 226.5h6M892 226.5h3M968 226.5h2M1318 406.5h1M550 121.5h2M666 121.5h3M219 222.5h8M792 222.5h2M906 222.5h4M945 222.5h11M432 140.5h2M698 140.5h1M324 205.5h3M768 205.5h1M445 133.5h2M507 133.5h6M519 133.5h4M688 133.5h1M1094 368.5h1M1199 368.5h3M1253 368.5h3M458 127.5h20M538 127.5h2M679 127.5h1M247 217.5h5M286 217.5h3M292 217.5h3M786 217.5h1M560 117.5h3M656 117.5h3M385 173.5h1M730 173.5h1M1095 369.5h1M1196 369.5h3M1256 369.5h2M1100 374.5h1M1177 374.5h6M1267 374.5h2M546 123.5h2M671 123.5h2M185 230.5h3M824 230.5h7M847 230.5h17M880 230.5h2M974 230.5h1M337 200.5h2M761 200.5h1M1086 360.5h1M1219 360.5h4M1035 296.5h1M1075 350.5h1M1098 372.5h1M1188 372.5h3M1263 372.5h2M1314 403.5h2M1036 297.5h1M351 194.5h2M754 194.5h1M232 220.5h5M790 220.5h1M914 220.5h4M931 220.5h4M1091 365.5h1M1206 365.5h2M1241 365.5h4M1076 351.5h1M151 248.5h1M991 248.5h1M67 273.5h2M95 273.5h5M1015 273.5h1M242 218.5h5M289 218.5h3M787 218.5h1M922 218.5h5M308 211.5h3M776 211.5h2M403 159.5h2M715 159.5h1M252 216.5h5M282 216.5h4M295 216.5h2M784 216.5h2M121 264.5h2M1006 264.5h1M344 197.5h3M757 197.5h1M449 131.5h2M494 131.5h6M527 131.5h4M685 131.5h1M327 204.5h2M766 204.5h2M370 184.5h1M742 184.5h2M447 132.5h2M500 132.5h7M523 132.5h4M686 132.5h2M1313 402.5h1M182 231.5h3M831 231.5h16M864 231.5h8M877 231.5h3M975 231.5h1M227 221.5h5M791 221.5h1M910 221.5h4M935 221.5h10M1087 361.5h1M1215 361.5h4M1223 361.5h4M237 219.5h5M788 219.5h2M918 219.5h4M927 219.5h4M1028 287.5h1M1092 366.5h1M1204 366.5h2M1245 366.5h4M262 214.5h11M300 214.5h3M781 214.5h2M443 134.5h2M513 134.5h6M689 134.5h2M311 210.5h3M775 210.5h1M1102 376.5h1M1171 376.5h2M1271 376.5h2M188 229.5h3M819 229.5h5M882 229.5h3M973 229.5h1M389 170.5h1M727 170.5h1M347 196.5h2M756 196.5h1M402 160.5h1M716 160.5h1M316 208.5h3M772 208.5h2M542 125.5h2M675 125.5h2M342 198.5h2M758 198.5h1M1328 413.5h2M1020 278.5h1M1116 390.5h2M1147 390.5h1M1298 390.5h2M322 206.5h2M769 206.5h2M194 227.5h2M811 227.5h5M889 227.5h3M970 227.5h2M412 153.5h1M710 153.5h1M178 233.5h2M978 233.5h1M613 103.5h6M624 103.5h3M424 145.5h1M1083 357.5h1M1108 382.5h1M1160 382.5h2M1282 382.5h2M1089 363.5h1M1210 363.5h2M1232 363.5h4M415 151.5h1M708 151.5h1M1057 323.5h1M413 152.5h2M709 152.5h1M441 135.5h2M691 135.5h1M619 102.5h5M1093 367.5h1M1202 367.5h2M1249 367.5h4M155 245.5h1M601 106.5h4M633 106.5h2M427 143.5h1M701 143.5h1M544 124.5h2M673 124.5h2M1104 378.5h1M1167 378.5h2M1275 378.5h1M587 110.5h4M641 110.5h2M1096 370.5h1M1194 370.5h2M1258 370.5h2M319 207.5h3M771 207.5h1M454 129.5h2M483 129.5h6M534 129.5h2M682 129.5h1M15 270.5h4M61 270.5h2M106 270.5h3M1012 270.5h1M381 176.5h1M734 176.5h1M314 209.5h2M774 209.5h1M173 235.5h2M980 235.5h1M1097 371.5h1M1191 371.5h3M1260 371.5h3M438 137.5h1M694 137.5h1M1037 298.5h2M1125 394.5h3M1140 394.5h2M1304 394.5h1M1109 383.5h1M1158 383.5h2M1284 383.5h3M375 180.5h2M738 180.5h1M169 237.5h2M982 237.5h1M428 142.5h2M700 142.5h1M1118 391.5h2M1145 391.5h2M1300 391.5h1M591 109.5h4M639 109.5h2M605 105.5h3M630 105.5h3M3 272.5h5M65 272.5h2M100 272.5h4M1014 272.5h1M303 213.5h3M779 213.5h2M382 175.5h1M733 175.5h1M1106 380.5h1M1164 380.5h1M1278 380.5h2M1090 364.5h1M1208 364.5h2M1236 364.5h5M1026 284.5h1M540 126.5h2M677 126.5h2M117 266.5h2M1008 266.5h1M339 199.5h3M759 199.5h2M153 246.5h2M577 112.5h5M644 112.5h2M410 154.5h2M711 154.5h1M434 139.5h2M697 139.5h1M386 172.5h1M729 172.5h1M395 165.5h2M721 165.5h2M171 236.5h2M981 236.5h1M383 174.5h2M731 174.5h2M430 141.5h2M699 141.5h1M329 203.5h3M765 203.5h1M566 115.5h2M650 115.5h2M136 256.5h2M998 256.5h1M1110 384.5h1M1156 384.5h2M1287 384.5h2M1058 324.5h1M166 238.5h3M983 238.5h1M114 267.5h3M1009 267.5h1M552 120.5h3M664 120.5h2M332 202.5h2M764 202.5h1M439 136.5h2M692 136.5h2M133 258.5h2M1000 258.5h1M1099 373.5h1M1183 373.5h5M1265 373.5h2M378 178.5h1M736 178.5h1M1062 330.5h1M1123 393.5h2M1142 393.5h1M1303 393.5h1M1115 389.5h1M1148 389.5h2M1296 389.5h2M365 187.5h2M746 187.5h1M142 253.5h2M995 253.5h1M363 188.5h2M747 188.5h1M140 254.5h2M996 254.5h1M129 260.5h2M1002 260.5h1M1324 411.5h2M563 116.5h3M652 116.5h4M367 186.5h2M745 186.5h1M390 169.5h1M726 169.5h1M125 262.5h2M1004 262.5h1M1107 381.5h1M1162 381.5h2M1280 381.5h2M572 113.5h5M646 113.5h2M1088 362.5h1M1212 362.5h3M1227 362.5h5M608 104.5h5M627 104.5h3M148 250.5h1M993 250.5h1M1309 398.5h1M144 252.5h2M1112 386.5h1M1153 386.5h1M1291 386.5h2M1310 399.5h1M1320 408.5h2M401 161.5h1M717 161.5h1M1043 302.5h1M349 195.5h2M755 195.5h1M1047 308.5h1M595 108.5h3M637 108.5h2M409 155.5h1M353 193.5h2M752 193.5h2M369 185.5h1M744 185.5h1M127 261.5h2M1003 261.5h1M1039 299.5h1M1128 395.5h2M1136 395.5h4M1305 395.5h1M394 166.5h1M723 166.5h1M419 148.5h2M705 148.5h1M387 171.5h2M728 171.5h1M1317 405.5h1M175 234.5h3M979 234.5h1M123 263.5h2M1005 263.5h1M421 147.5h1M704 147.5h1M377 179.5h1M737 179.5h1M422 146.5h2M703 146.5h1M359 190.5h2M749 190.5h1M1034 295.5h1M159 242.5h1M986 242.5h1M306 212.5h2M778 212.5h1M361 189.5h2M748 189.5h1M407 156.5h2M119 265.5h2M1007 265.5h1M1023 281.5h1M1085 359.5h1M1312 401.5h1M162 240.5h2M1052 316.5h1M391 168.5h2M725 168.5h1M371 183.5h2M741 183.5h1M1066 335.5h1M1326 412.5h2M1111 385.5h1M1154 385.5h2M1289 385.5h2M1081 356.5h2M1041 301.5h2M160 241.5h2M985 241.5h1M416 150.5h2M707 150.5h1M379 177.5h2M735 177.5h1M156 244.5h1M988 244.5h1M1025 283.5h1M425 144.5h2M1103 377.5h1M1169 377.5h2M1273 377.5h2M436 138.5h2M695 138.5h2M1105 379.5h1M1165 379.5h2M1276 379.5h2M374 181.5h1M739 181.5h1M1068 338.5h1M568 114.5h4M648 114.5h2M138 255.5h2M997 255.5h1M1323 410.5h1M393 167.5h1M724 167.5h1M164 239.5h2M1019 277.5h1M131 259.5h2M1001 259.5h1M1319 407.5h1M1307 397.5h2M1060 327.5h1M1077 352.5h1M1078 353.5h1M157 243.5h2M987 243.5h1M399 162.5h2M718 162.5h1M1029 288.5h1M1084 358.5h1M1021 279.5h1M1022 280.5h1M1330 414.5h1M397 164.5h1M720 164.5h1M1079 354.5h1M152 247.5h1M990 247.5h1M1080 355.5h1M405 158.5h1M714 158.5h1M1032 292.5h1M398 163.5h1M719 163.5h1M1031 291.5h1M1024 282.5h1M1049 311.5h1M146 251.5h2M1063 331.5h1M1316 404.5h1M1044 303.5h1M1311 400.5h1M1322 409.5h1M1065 334.5h1M1018 276.5h1M1040 300.5h1" fill="none" stroke="#ffa500" stroke-width="1"/>
<rect x="3" y="44" width="1680" height="2" fill="#ff0000"/>
<rect x="3" y="195" width="1680" height="2" fill="#ff0000"/>
<rect x="3" y="295" width="1680" height="2" fill="#ff0000"/>
<rect x="3" y="446" width="1680" height="2" fill="#32cd32"/>
<path d="M669.5 586v2M1008.5 623v2M177 538.5h3M183 538.5h3M189 538.5h3M376 538.5h2M381 538.5h3M393 538.5h3M693 610.5h1M884 610.5h2M1165 610.5h1M1263 610.5h1M956 584.5h1M962 584.5h3M81 563.5h1M117 563.5h2M243 563.5h1M327 563.5h1M513 563.5h1M569 563.5h1M75 562.5h3M119 562.5h1M328 562.5h2M507 562.5h3M573 562.5h1M641 562.5h1M51 554.5h1M142 554.5h2M340 554.5h2M471 554.5h3M597 554.5h1M628 554.5h2M698 615.5h1M842 615.5h3M848 615.5h3M1160 615.5h1M1273 615.5h1M1059 672.5h1M1081 672.5h3M29 546.5h1M159 546.5h1M353 546.5h1M435 546.5h2M111 565.5h2M323 565.5h1M519 565.5h3M561 565.5h3M645 565.5h2M40 551.5h2M148 551.5h2M225 551.5h2M345 551.5h2M459 551.5h3M615 551.5h3M69 561.5h3M123 561.5h3M239 561.5h1M502 561.5h2M574 561.5h2M640 561.5h1M692 609.5h1M886 609.5h1M1166 609.5h2M1261 609.5h2M269 576.5h1M303 576.5h3M658 576.5h2M944 587.5h2M87 566.5h3M93 566.5h3M99 566.5h3M105 566.5h3M249 566.5h1M321 566.5h2M525 566.5h1M555 566.5h3M647 566.5h1M854 614.5h3M860 614.5h3M1161 614.5h1M676 594.5h1M920 594.5h3M981 594.5h1M700 617.5h1M820 617.5h1M824 617.5h3M1003 617.5h1M273 577.5h3M297 577.5h3M63 559.5h3M131 559.5h1M237 559.5h1M495 559.5h3M580 559.5h2M46 553.5h2M466 553.5h2M598 553.5h2M603 553.5h1M627 553.5h1M932 590.5h3M976 590.5h1M1195 590.5h3M1225 590.5h2M153 549.5h1M443 549.5h1M447 549.5h3M279 578.5h3M285 578.5h3M291 578.5h3M740 635.5h3M746 635.5h3M752 635.5h3M1017 635.5h1M688 605.5h1M897 605.5h2M992 605.5h1M1171 605.5h1M874 612.5h1M878 612.5h3M998 612.5h1M1267 612.5h1M674 592.5h1M926 592.5h3M1190 592.5h2M1231 592.5h1M129 560.5h2M238 560.5h1M501 560.5h1M579 560.5h1M639 560.5h1M27 545.5h2M160 545.5h2M213 545.5h3M425 545.5h1M429 545.5h3M950 585.5h3M968 585.5h3M1063 673.5h3M1075 673.5h3M728 633.5h3M764 633.5h3M1141 633.5h1M1022 641.5h1M57 557.5h2M136 557.5h2M334 557.5h1M489 557.5h1M585 557.5h3M635 557.5h1M686 603.5h1M902 603.5h1M1173 603.5h1M1250 603.5h2M21 542.5h1M166 542.5h2M207 542.5h1M363 542.5h2M413 542.5h1M814 618.5h1M818 618.5h2M1004 618.5h1M1279 618.5h1M59 558.5h1M135 558.5h1M333 558.5h1M490 558.5h2M682 599.5h1M909 599.5h2M986 599.5h1M1179 599.5h1M1243 599.5h2M34 548.5h2M154 548.5h2M220 548.5h2M351 548.5h1M441 548.5h2M1029 648.5h1M45 552.5h1M147 552.5h1M227 552.5h1M465 552.5h1M604 552.5h2M609 552.5h3M621 552.5h3M1051 668.5h2M975 589.5h1M1201 589.5h3M1219 589.5h3M782 627.5h1M1147 627.5h1M866 613.5h3M872 613.5h2M999 613.5h1M1268 613.5h2M82 564.5h2M113 564.5h1M244 564.5h2M514 564.5h2M567 564.5h2M722 631.5h3M771 631.5h2M1014 631.5h1M1143 631.5h1M699 616.5h1M830 616.5h3M836 616.5h3M1159 616.5h1M1274 616.5h2M250 567.5h2M526 567.5h2M531 567.5h1M549 567.5h3M1057 671.5h2M1087 671.5h3M1047 665.5h1M15 539.5h1M172 539.5h2M195 539.5h3M370 539.5h2M375 539.5h1M399 539.5h3M316 568.5h2M532 568.5h2M537 568.5h3M543 568.5h3M716 628.5h2M22 543.5h2M165 543.5h1M208 543.5h2M417 543.5h2M718 629.5h1M776 629.5h3M1012 629.5h1M670 588.5h1M938 588.5h3M974 588.5h1M1207 588.5h3M1213 588.5h3M1039 659.5h2M1112 659.5h2M710 625.5h2M1009 625.5h1M1149 625.5h1M1297 625.5h3M1327 625.5h3M812 619.5h2M1005 619.5h1M1155 619.5h1M1280 619.5h2M233 556.5h1M335 556.5h1M483 556.5h3M633 556.5h2M903 602.5h2M1249 602.5h1M988 601.5h1M712 626.5h1M783 626.5h2M1148 626.5h1M1303 626.5h3M1309 626.5h3M1315 626.5h3M1321 626.5h3M908 600.5h1M987 600.5h1M1177 600.5h2M1245 600.5h1M706 622.5h1M800 622.5h2M1286 622.5h2M734 634.5h3M758 634.5h3M1013 630.5h1M10 537.5h2M387 537.5h3M203 541.5h1M365 541.5h1M411 541.5h2M39 550.5h1M347 550.5h1M453 550.5h3M357 544.5h3M419 544.5h1M423 544.5h2M680 598.5h2M915 596.5h2M1183 596.5h1M1238 596.5h2M256 570.5h2M652 570.5h1M262 573.5h2M309 573.5h2M1100 666.5h2M687 604.5h1M1172 604.5h1M675 593.5h1M980 593.5h1M1189 593.5h1M1232 593.5h2M794 623.5h3M1291 623.5h1M705 621.5h1M802 621.5h1M1153 621.5h1M1285 621.5h1M16 540.5h2M171 540.5h1M201 540.5h2M369 540.5h1M405 540.5h3M9 536.5h1M694 611.5h1M997 611.5h1M1069 674.5h3M892 607.5h1M994 607.5h1M1257 607.5h1M255 569.5h1M315 569.5h1M651 569.5h1M1024 643.5h1M1131 643.5h1M788 624.5h3M1292 624.5h2M896 606.5h1M993 606.5h1M1255 606.5h2M1035 655.5h1M1118 655.5h1M52 555.5h2M141 555.5h1M231 555.5h2M339 555.5h1M477 555.5h3M591 555.5h3M1023 642.5h1M770 632.5h1M1142 632.5h1M267 575.5h2M657 575.5h1M982 595.5h1M1184 595.5h2M1237 595.5h1M1030 649.5h1M1125 649.5h1M1053 669.5h1M1094 669.5h2M1129 645.5h1M957 583.5h2M1045 664.5h2M1034 654.5h1M1119 654.5h1M704 620.5h1M806 620.5h3M1154 620.5h1M1117 656.5h1M1033 653.5h1M663 580.5h1M33 547.5h1M219 547.5h1M352 547.5h1M437 547.5h1M664 581.5h1M1136 638.5h1M1124 650.5h1M3 533.5h1M1018 636.5h1M890 608.5h2M1105 663.5h2M1093 670.5h1M1041 660.5h1M1111 660.5h1M1099 667.5h1M665 582.5h1M1028 647.5h1M1135 639.5h1M1107 662.5h1M653 571.5h1M1123 651.5h1M1227 591.5h1M946 586.5h1M4 534.5h2M1130 644.5h1M261 572.5h1M311 572.5h1M914 597.5h1M1019 637.5h1M1137 637.5h1" fill="none" stroke="#ff0000" stroke-width="1"/>
<line x1="3" y1="729.5" x2="1683" y2="729.5" stroke="#c0c0c0" stroke-width="1" stroke-dasharray="3 3"/>
<line x1="3" y1="779.5" x2="1683" y2="779.5" stroke="#c0c0c0" stroke-width="1" stroke-dasharray="3 3"/>
<path d="M883.5 743v2M1285.5 763v2M1213.5 756v2M532.5 744v2M537.5 734v2M484.5 746v2M486.5 749v2M343.5 737v2M490.5 755v2M1174.5 750v2M882.5 745v4M1052.5 784v2M930.5 758v2M1212.5 754v2M103.5 737v2M1178.5 756v2M1214.5 758v2M1215.5 760v3M1058.5 775v2M964.5 769v2M536.5 736v2M82.5 748v2M106.5 733v2M625.5 762v2M629.5 768v2M287.5 744v2M488.5 752v2M79.5 752v2M876.5 765v4M1172.5 747v2M535.5 738v2M970.5 778v2M632.5 773v2M299.5 732v2M531.5 746v2M1211.5 752v2M833.5 758v2M1176.5 753v2M100.5 741v2M173.5 743v2M878.5 759v3M199.5 756v2M298.5 734v2M875.5 769v2M879.5 755v4M534.5 740v2M628.5 766v2M1289.5 758v2M617.5 752v2M634.5 777v2M346.5 741v2M1219.5 769v2M1216.5 763v2M730.5 762v2M399.5 747v2M297.5 736v2M1071.5 767v2M1117.5 752v2M539.5 730v2M975.5 784v2M296.5 738v2M724.5 770v2M391.5 747v2M877.5 762v3M292.5 746v2M881.5 749v3M880.5 752v3M1218.5 767v2M926.5 752v2M177.5 748v2M295.5 740v2M538.5 732v2M727.5 766v2M928.5 755v2M291.5 748v2M966.5 772v2M621.5 757v2M1111.5 759v2M829.5 763v2M340.5 733v2M613.5 747v2M533.5 742v2M294.5 742v2M1056.5 778v2M76.5 756v2M293.5 744v2M968.5 775v2M1121.5 747v2M630.5 770v2M633.5 775v2M1054.5 781v2M1217.5 765v2M924.5 749v2M9 749.5h2M35 749.5h3M50 749.5h6M61 749.5h2M90 749.5h2M270 749.5h1M392 749.5h1M398 749.5h1M426 749.5h1M429 749.5h3M461 749.5h2M472 749.5h1M528 749.5h2M614 749.5h1M1120 749.5h1M1159 749.5h1M1167 749.5h1M1173 749.5h1M3 745.5h1M96 745.5h2M174 745.5h1M275 745.5h1M389 745.5h1M401 745.5h1M422 745.5h1M439 745.5h2M450 745.5h3M482 745.5h2M585 745.5h2M590 745.5h4M610 745.5h2M894 745.5h4M1123 745.5h3M1146 745.5h6M163 738.5h2M371 738.5h5M562 738.5h11M737 766.5h1M742 766.5h1M794 766.5h3M807 766.5h1M826 766.5h2M871 766.5h1M960 766.5h2M1072 766.5h1M1243 766.5h3M1255 766.5h2M1263 766.5h2M1271 766.5h2M1282 766.5h2M13 751.5h3M32 751.5h2M65 751.5h2M80 751.5h1M179 751.5h5M264 751.5h4M394 751.5h1M396 751.5h1M465 751.5h2M468 751.5h2M487 751.5h1M515 751.5h3M526 751.5h1M616 751.5h1M925 751.5h1M1118 751.5h1M1162 751.5h1M1164 751.5h2M653 776.5h3M679 776.5h2M719 776.5h1M4 746.5h2M95 746.5h1M175 746.5h1M274 746.5h1M288 746.5h1M390 746.5h1M400 746.5h1M423 746.5h1M437 746.5h2M453 746.5h3M478 746.5h4M587 746.5h3M612 746.5h1M898 746.5h12M1122 746.5h1M1126 746.5h4M1144 746.5h2M1152 746.5h4M1171 746.5h1M104 736.5h1M129 736.5h2M136 736.5h6M160 736.5h1M342 736.5h1M557 736.5h3M16 752.5h2M31 752.5h1M67 752.5h1M184 752.5h12M251 752.5h13M395 752.5h1M467 752.5h1M513 752.5h2M518 752.5h4M524 752.5h2M1163 752.5h1M1175 752.5h1M105 735.5h1M128 735.5h1M142 735.5h4M158 735.5h2M341 735.5h1M555 735.5h2M203 761.5h2M226 761.5h1M240 761.5h2M624 761.5h1M731 761.5h1M760 761.5h1M783 761.5h1M831 761.5h1M854 761.5h4M953 761.5h2M1086 761.5h4M1094 761.5h4M1110 761.5h1M1190 761.5h4M1197 761.5h2M1287 761.5h1M1301 761.5h2M640 781.5h2M644 781.5h2M689 781.5h2M694 781.5h4M972 781.5h1M1006 781.5h2M1022 781.5h2M1038 781.5h4M1044 781.5h2M72 756.5h2M216 756.5h2M220 756.5h1M247 756.5h1M494 756.5h4M620 756.5h1M767 756.5h1M776 756.5h1M835 756.5h2M1114 756.5h1M1206 756.5h1M1291 756.5h2M227 762.5h5M237 762.5h3M732 762.5h1M747 762.5h3M758 762.5h2M784 762.5h2M811 762.5h3M830 762.5h1M858 762.5h10M955 762.5h1M1080 762.5h6M1098 762.5h4M1109 762.5h1M1194 762.5h3M1286 762.5h1M1303 762.5h2M1314 762.5h18M170 741.5h2M281 741.5h2M284 741.5h1M366 741.5h2M383 741.5h2M577 741.5h2M649 778.5h2M683 778.5h2M706 778.5h4M717 778.5h1M1011 778.5h5M202 760.5h1M205 760.5h3M225 760.5h1M242 760.5h2M623 760.5h1M761 760.5h2M782 760.5h1M832 760.5h1M843 760.5h11M931 760.5h11M951 760.5h2M1090 760.5h4M1186 760.5h4M1199 760.5h2M1288 760.5h1M1299 760.5h2M658 774.5h4M674 774.5h3M721 774.5h1M967 774.5h1M1059 774.5h3M1234 774.5h2M976 786.5h1M999 786.5h1M1051 786.5h1M6 747.5h2M42 747.5h4M83 747.5h3M94 747.5h1M176 747.5h1M272 747.5h2M289 747.5h1M424 747.5h1M434 747.5h3M456 747.5h2M475 747.5h3M910 747.5h4M1130 747.5h6M1141 747.5h3M1156 747.5h2M1170 747.5h1M99 743.5h1M278 743.5h2M286 743.5h1M347 743.5h17M387 743.5h1M403 743.5h13M420 743.5h1M443 743.5h3M581 743.5h2M600 743.5h6M884 743.5h4M977 787.5h1M998 787.5h1M738 767.5h1M740 767.5h2M797 767.5h2M806 767.5h1M872 767.5h1M962 767.5h1M1242 767.5h1M1257 767.5h2M1261 767.5h2M1273 767.5h2M1278 767.5h4M662 773.5h4M670 773.5h4M722 773.5h1M1062 773.5h4M1230 773.5h4M1236 773.5h1M126 734.5h2M146 734.5h6M156 734.5h2M323 734.5h11M554 734.5h1M11 750.5h2M34 750.5h1M63 750.5h2M81 750.5h1M178 750.5h1M268 750.5h2M393 750.5h1M397 750.5h1M427 750.5h2M463 750.5h2M470 750.5h2M527 750.5h1M615 750.5h1M1119 750.5h1M1160 750.5h2M1166 750.5h1M172 742.5h1M280 742.5h1M285 742.5h1M364 742.5h2M385 742.5h2M416 742.5h4M579 742.5h2M26 755.5h2M71 755.5h1M77 755.5h1M198 755.5h1M218 755.5h2M248 755.5h1M498 755.5h11M619 755.5h1M768 755.5h2M774 755.5h2M1115 755.5h1M1177 755.5h1M1207 755.5h1M631 772.5h1M666 772.5h4M723 772.5h1M1066 772.5h2M1226 772.5h4M1237 772.5h1M112 733.5h8M124 733.5h2M152 733.5h4M322 733.5h1M334 733.5h4M552 733.5h2M8 748.5h1M38 748.5h4M46 748.5h4M56 748.5h5M86 748.5h4M92 748.5h2M271 748.5h1M290 748.5h1M425 748.5h1M432 748.5h2M458 748.5h3M473 748.5h2M485 748.5h1M530 748.5h1M914 748.5h10M1136 748.5h5M1158 748.5h1M1168 748.5h2M303 730.5h2M318 730.5h1M540 730.5h4M548 730.5h2M75 758.5h1M200 758.5h1M210 758.5h3M222 758.5h2M245 758.5h1M764 758.5h2M779 758.5h1M839 758.5h2M946 758.5h3M1112 758.5h1M1179 758.5h3M1203 758.5h1M1295 758.5h2M635 779.5h2M648 779.5h1M685 779.5h2M702 779.5h4M710 779.5h4M716 779.5h1M1009 779.5h2M1016 779.5h4M725 769.5h1M801 769.5h2M804 769.5h1M874 769.5h1M1070 769.5h1M1240 769.5h1M979 789.5h17M98 744.5h1M276 744.5h2M388 744.5h1M402 744.5h1M421 744.5h1M441 744.5h2M446 744.5h4M583 744.5h2M594 744.5h6M606 744.5h4M888 744.5h6M637 780.5h3M646 780.5h2M687 780.5h2M698 780.5h4M714 780.5h2M971 780.5h1M1008 780.5h1M1020 780.5h2M1042 780.5h2M1055 780.5h1M726 768.5h1M739 768.5h1M799 768.5h2M805 768.5h1M873 768.5h1M963 768.5h1M1241 768.5h1M1259 768.5h2M1275 768.5h3M22 754.5h4M28 754.5h2M70 754.5h1M78 754.5h1M197 754.5h1M249 754.5h1M489 754.5h1M509 754.5h2M618 754.5h1M770 754.5h1M772 754.5h2M927 754.5h1M1116 754.5h1M1208 754.5h2M18 753.5h4M30 753.5h1M68 753.5h2M196 753.5h1M250 753.5h1M511 753.5h2M522 753.5h2M771 753.5h1M1210 753.5h1M201 759.5h1M208 759.5h2M224 759.5h1M244 759.5h1M622 759.5h1M763 759.5h1M780 759.5h2M841 759.5h2M942 759.5h4M949 759.5h2M1182 759.5h4M1201 759.5h2M1297 759.5h2M305 729.5h2M316 729.5h2M544 729.5h4M965 771.5h1M1068 771.5h1M1222 771.5h4M1238 771.5h1M627 765.5h1M728 765.5h1M736 765.5h1M743 765.5h1M790 765.5h4M808 765.5h1M822 765.5h4M828 765.5h1M870 765.5h1M959 765.5h1M1073 765.5h1M1246 765.5h4M1253 765.5h2M1265 765.5h2M1269 765.5h2M1284 765.5h1M651 777.5h2M681 777.5h2M718 777.5h1M969 777.5h1M1057 777.5h1M232 763.5h5M733 763.5h1M746 763.5h1M750 763.5h4M756 763.5h2M786 763.5h1M810 763.5h1M814 763.5h4M868 763.5h1M956 763.5h2M1075 763.5h5M1102 763.5h4M1108 763.5h1M1305 763.5h2M1310 763.5h4M131 737.5h5M161 737.5h2M560 737.5h2M974 783.5h1M1003 783.5h1M1025 783.5h2M1030 783.5h4M1047 783.5h1M1053 783.5h1M74 757.5h1M213 757.5h3M221 757.5h1M246 757.5h1M491 757.5h3M766 757.5h1M777 757.5h2M834 757.5h1M837 757.5h2M929 757.5h1M1113 757.5h1M1204 757.5h2M1290 757.5h1M1293 757.5h2M307 728.5h9M642 782.5h2M691 782.5h3M973 782.5h1M1004 782.5h2M1024 782.5h1M1034 782.5h4M1046 782.5h1M978 788.5h1M996 788.5h2M102 739.5h1M165 739.5h3M344 739.5h1M369 739.5h2M376 739.5h5M573 739.5h2M1002 784.5h1M1027 784.5h3M1048 784.5h2M1000 785.5h2M1050 785.5h1M626 764.5h1M729 764.5h1M734 764.5h2M744 764.5h2M754 764.5h2M787 764.5h3M809 764.5h1M818 764.5h4M869 764.5h1M958 764.5h1M1074 764.5h1M1106 764.5h2M1250 764.5h3M1267 764.5h2M1307 764.5h3M803 770.5h1M1069 770.5h1M1220 770.5h2M1239 770.5h1M101 740.5h1M168 740.5h2M283 740.5h1M345 740.5h1M368 740.5h1M381 740.5h2M575 740.5h2M107 732.5h5M120 732.5h4M300 732.5h1M320 732.5h2M338 732.5h2M551 732.5h1M656 775.5h2M677 775.5h2M720 775.5h1M301 731.5h2M319 731.5h1M550 731.5h1" fill="none" stroke="#1e90ff" stroke-width="1"/>
<rect x="2" y="0" width="1682" height="1" fill="#000"/>
<rect x="2" y="0" width="1" height="522" fill="#000"/>
<rect x="1683" y="0" width="1" height="522" fill="#000"/>
<rect x="2" y="521" width="1682" height="1" fill="#000"/>
<rect x="2" y="523" width="1682" height="1" fill="#000"/>
<rect x="2" y="523" width="1" height="167" fill="#000"/>
<rect x="1683" y="523" width="1" height="167" fill="#000"/>
<rect x="2" y="689" width="1682" height="1" fill="#000"/>
<rect x="2" y="691" width="1682" height="1" fill="#000"/>
<rect x="2" y="691" width="1" height="126" fill="#000"/>
<rect x="1683" y="691" width="1" height="126" fill="#000"/>
<rect x="2" y="816" width="1682" height="1" fill="#000"/>
<rect x="3" y="817" width="1" height="3" fill="#000"/>
<rect x="67" y="817" width="1" height="3" fill="#000"/>
<rect x="131" y="817" width="1" height="3" fill="#000"/>
<rect x="195" y="817" width="1" height="3" fill="#000"/>
<rect x="259" y="817" width="1" height="3" fill="#000"/>
<rect x="323" y="817" width="1" height="3" fill="#000"/>
<rect x="387" y="817" width="1" height="3" fill="#000"/>
<rect x="451" y="817" width="1" height="3" fill="#000"/>
<rect x="515" y="817" width="1" height="3" fill="#000"/>
<rect x="579" y="817" width="1" height="3" fill="#000"/>
<rect x="643" y="817" width="1" height="3" fill="#000"/>
<rect x="707" y="817" width="1" height="3" fill="#000"/>
<rect x="771" y="817" width="1" height="3" fill="#000"/>
<rect x="835" y="817" width="1" height="3" fill="#000"/>
<rect x="899" y="817" width="1" height="3" fill="#000"/>
<rect x="963" y="817" width="1" height="3" fill="#000"/>
<rect x="1027" y="817" width="1" height="3" fill="#000"/>
<rect x="1091" y="817" width="1" height="3" fill="#000"/>
<rect x="1155" y="817" width="1" height="3" fill="#000"/>
<rect x="1219" y="817" width="1" height="3" fill="#000"/>
<rect x="1283" y="817" width="1" height="3" fill="#000"/>
<rect x="1684" y="23" width="2" height="1" fill="#000"/>
<rect x="1684" y="56" width="2" height="1" fill="#000"/>
<rect x="1684" y="89" width="2" height="1" fill="#000"/>
<rect x="1684" y="122" width="2" height="1" fill="#000"/>
<rect x="1684" y="155" width="2" height="1" fill="#000"/>
<rect x="1684" y="188" width="2" height="1" fill="#000"/>
<rect x="1684" y="221" width="2" height="1" fill="#000"/>
<rect x="1684" y="254" width="2" height="1" fill="#000"/>
<rect x="1684" y="287" width="2" height="1" fill="#000"/>
<rect x="1684" y="320" width="2" height="1" fill="#000"/>
<rect x="1684" y="353" width="2" height="1" fill="#000"/>
<rect x="1684" y="386" width="2" height="1" fill="#000"/>
<rect x="1684" y="419" width="2" height="1" fill="#000"/>
<rect x="1684" y="452" width="2" height="1" fill="#000"/>
<rect x="1684" y="485" width="2" height="1" fill="#000"/>
<rect x="1684" y="518" width="2" height="1" fill="#000"/>
<rect x="1684" y="524" width="1" height="1" fill="#000"/>
<rect x="1684" y="585" width="1" height="1" fill="#000"/>
<rect x="1684" y="815" width="1" height="1" fill="#000"/>
<rect x="1684" y="692" width="1" height="1" fill="#000"/>
<rect x="1684" y="688" width="1" height="1" fill="#000"/>
<polygon points="1340.6,1 1350.4,1 1345.5,6.3" fill="#708090" shape-rendering="auto"/>
<polygon points="6,7 13,7 9.5,11" fill="#000"/>
</g>
<text transform="translate(17.5,11.8) scale(0.9506,1)" xml:space="preserve">XAUUSD-,H4</text>
<text transform="translate(81.2,11.8) scale(0.9214,1)" xml:space="preserve">1750.25</text>
<text transform="translate(117.1,11.8) scale(0.9214,1)" xml:space="preserve">1750.90</text>
<text transform="translate(153.0,11.8) scale(0.9214,1)" xml:space="preserve">1749.74</text>
<text transform="translate(188.89999999999998,11.8) scale(0.9214,1)" xml:space="preserve">1750.73</text>
<text transform="translate(7.2,536) scale(0.9428,1)" xml:space="preserve">MACD(12,26,9) -4.472 -4.995</text>
<text transform="translate(6.9,703.6) scale(0.929,1)" xml:space="preserve">RSI(14) 44.0927</text>
<text transform="translate(2.0,829) scale(0.9555,1)" xml:space="preserve">19 Aug 2021</text>
<text transform="translate(66.0,829) scale(0.9555,1)" xml:space="preserve">20 Aug 16:00</text>
<text transform="translate(130.0,829) scale(0.9555,1)" xml:space="preserve">24 Aug 00:00</text>
<text transform="translate(194.0,829) scale(0.9555,1)" xml:space="preserve">25 Aug 08:00</text>
<text transform="translate(258.0,829) scale(0.9555,1)" xml:space="preserve">26 Aug 16:00</text>
<text transform="translate(322.0,829) scale(0.9555,1)" xml:space="preserve">30 Aug 00:00</text>
<text transform="translate(386.0,829) scale(0.9555,1)" xml:space="preserve">31 Aug 08:00</text>
<text transform="translate(450.0,829) scale(0.9555,1)" xml:space="preserve">1 Sep 16:00</text>
<text transform="translate(514.0,829) scale(0.9555,1)" xml:space="preserve">3 Sep 00:00</text>
<text transform="translate(578.0,829) scale(0.9555,1)" xml:space="preserve">6 Sep 08:00</text>
<text transform="translate(642.0,829) scale(0.9555,1)" xml:space="preserve">7 Sep 16:00</text>
<text transform="translate(706.0,829) scale(0.9555,1)" xml:space="preserve">8 Sep 22:00</text>
<text transform="translate(770.0,829) scale(0.9555,1)" xml:space="preserve">10 Sep 04:00</text>
<text transform="translate(834.0,829) scale(0.9555,1)" xml:space="preserve">13 Sep 12:00</text>
<text transform="translate(898.0,829) scale(0.9555,1)" xml:space="preserve">14 Sep 20:00</text>
<text transform="translate(962.0,829) scale(0.9555,1)" xml:space="preserve">16 Sep 04:00</text>
<text transform="translate(1026.0,829) scale(0.9555,1)" xml:space="preserve">17 Sep 12:00</text>
<text transform="translate(1090.0,829) scale(0.9555,1)" xml:space="preserve">20 Sep 20:00</text>
<text transform="translate(1154.0,829) scale(0.9555,1)" xml:space="preserve">22 Sep 04:00</text>
<text transform="translate(1218.0,829) scale(0.9555,1)" xml:space="preserve">23 Sep 12:00</text>
<text transform="translate(1282.0,829) scale(0.9555,1)" xml:space="preserve">26 Sep 23:00</text>
<text transform="translate(1688.8,27) scale(0.908,1)" xml:space="preserve">1834.45</text>
<text transform="translate(1688.8,60) scale(0.908,1)" xml:space="preserve">1827.85</text>
<text transform="translate(1688.8,93) scale(0.908,1)" xml:space="preserve">1821.25</text>
<text transform="translate(1688.8,126) scale(0.908,1)" xml:space="preserve">1814.65</text>
<text transform="translate(1688.8,159) scale(0.908,1)" xml:space="preserve">1808.05</text>
<text transform="translate(1688.8,192) scale(0.908,1)" xml:space="preserve">1801.45</text>
<text transform="translate(1688.8,225) scale(0.908,1)" xml:space="preserve">1795.00</text>
<text transform="translate(1688.8,258) scale(0.908,1)" xml:space="preserve">1788.40</text>
<text transform="translate(1688.8,291) scale(0.908,1)" xml:space="preserve">1781.80</text>
<text transform="translate(1688.8,324) scale(0.908,1)" xml:space="preserve">1775.20</text>
<text transform="translate(1688.8,357) scale(0.908,1)" xml:space="preserve">1768.60</text>
<text transform="translate(1688.8,390) scale(0.908,1)" xml:space="preserve">1762.00</text>
<text transform="translate(1688.8,423) scale(0.908,1)" xml:space="preserve">1755.55</text>
<text transform="translate(1688.8,456) scale(0.908,1)" xml:space="preserve">1748.95</text>
<text transform="translate(1688.8,489) scale(0.908,1)" xml:space="preserve">1742.35</text>
<text transform="translate(1688.8,522) scale(0.908,1)" xml:space="preserve">1735.75</text>
<g class="c">
<rect x="1685" y="438" width="38" height="11" fill="#000"/>
</g>
<text transform="translate(1688.8,447) scale(0.908,1)" xml:space="preserve" style="fill:#fff;stroke:#fff">1750.73</text>
<g class="c">
<rect x="1685" y="39" width="38" height="11" fill="#ff0000"/>
<rect x="1685" y="190" width="38" height="11" fill="#ff0000"/>
<rect x="1685" y="290" width="38" height="11" fill="#ff0000"/>
<rect x="1685" y="441" width="38" height="11" fill="#32cd32"/>
</g>
<text transform="translate(1688.8,48) scale(0.908,1)" xml:space="preserve" style="fill:#fff;stroke:#fff">1830.00</text>
<text transform="translate(1688.8,199) scale(0.908,1)" xml:space="preserve" style="fill:#fff;stroke:#fff">1800.00</text>
<text transform="translate(1688.8,299) scale(0.908,1)" xml:space="preserve" style="fill:#fff;stroke:#fff">1780.00</text>
<text transform="translate(1688.8,450) scale(0.908,1)" xml:space="preserve" style="fill:#fff;stroke:#fff">1750.00</text>
<text transform="translate(1686.8,533.6) scale(0.929,1)" xml:space="preserve">7.497</text>
<text transform="translate(1686.8,588.6) scale(0.929,1)" xml:space="preserve">0.00</text>
<text transform="translate(1687.2,686.3) scale(0.929,1)" xml:space="preserve">-12.941</text>
<text transform="translate(1686.8,701.5) scale(0.929,1)" xml:space="preserve">100</text>
<text transform="translate(1685.8,732.5) scale(0.929,1)" xml:space="preserve">70</text>
<text transform="translate(1685.8,782.5) scale(0.929,1)" xml:space="preserve">30</text>
<text transform="translate(1686.8,812.5) scale(0.929,1)" xml:space="preserve">0</text>
<text x="1380" y="389.5" textLength="264" lengthAdjust="spacingAndGlyphs" style="font-family:'Liberation Sans','Noto Sans CJK SC',sans-serif;font-size:37px;fill:#ec1820;stroke:none">多空转折点1750</text>
</svg></body></html>
